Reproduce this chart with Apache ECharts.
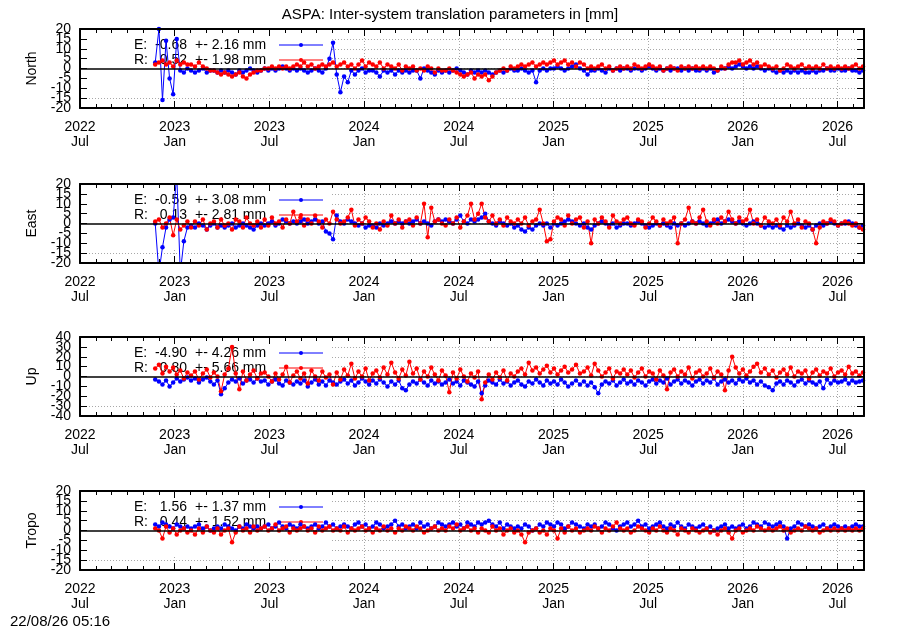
<!DOCTYPE html>
<html><head><meta charset="utf-8">
<script src="https://cdn.jsdelivr.net/npm/echarts@6/dist/echarts.min.js"></script>
<style>html,body{margin:0;padding:0;background:#fff}#c{width:900px;height:630px}</style>
</head><body><div id="c"></div>
<script>
const titleText = 'ASPA: Inter-system translation parameters in [mm]';
const stampText = '22/08/26 05:16';
const startDate = '2022-11-24';
const stepDays = 7;
const axisStart = '2022-07-01';
const axisEnd = '2026-08-22';
const tickLabels = ['2022\nJul','2023\nJan','2023\nJul','2024\nJan','2024\nJul','2025\nJan','2025\nJul','2026\nJan','2026\nJul'];
const panelNames = ['North','East','Up','Tropo'];
const yMin = [-20,-20,-40,-20];
const yMax = [20,20,40,20];
const yStep = [5,5,10,5];
const statsE = [['-0.68','2.16'],['-0.59','3.08'],['-4.90','4.26'],['1.56','1.37']];
const statsR = [['0.52','1.98'],['0.13','2.81'],['0.80','5.66'],['0.44','1.52']];

const northE = [3,20,-16,14,-5,-13,15,-1,-2,0,
-1,-2,-1,0,-2,-1,-1,-2,-1,-2,
-1,-2,-3,-1,-2,-1,0,-1,-2,-1,
0,-1,0,-1,0,1,0,-1,0,-1,
0,-1,-2,-1,0,-1,-2,0,5,13,
-3,-12,-4,-7,-1,-3,-1,0,-2,-1,
-1,-2,-4,-1,-2,-1,-3,-1,-2,-1,
-2,-1,-1,-5,0,-1,-2,-3,-1,-2,
-1,-2,-1,0,-1,-2,-3,-1,-2,-1,
-2,-1,-2,-3,-2,-1,-2,-1,0,-1,
-1,0,-1,-2,-1,-7,-1,0,-1,0,
0,1,0,-1,0,1,2,0,-1,-3,
-1,-1,0,-1,-2,0,-1,0,-1,0,
0,-1,0,0,-1,0,1,0,-1,0,
-1,0,-1,0,0,-1,0,-1,0,-1,
-1,0,-1,0,-2,-1,0,0,1,0,
1,2,1,0,1,0,1,0,-1,0,
-1,-2,-1,-2,-1,-2,-1,-2,-1,-2,
-2,-1,-2,-1,-1,0,-1,-1,0,-1,
-1,0,-1,-1,-2,-1];
const northR = [2,3,4,2,3,1,4,2,3,2,
2,1,3,1,0,-1,-1,-2,-3,-2,
-3,-4,-3,-2,-4,-5,-3,-2,-1,-1,
0,0,1,0,1,0,1,0,1,2,
1,3,1,2,0,1,2,1,2,3,
1,2,3,1,2,0,2,4,1,3,
2,1,3,0,2,1,0,2,-1,1,
0,1,-1,0,-1,1,0,-2,0,-1,
-1,0,-1,-2,-3,-4,-3,-2,-5,-3,
-4,-3,-6,-4,-2,-1,0,-1,1,0,
1,2,1,2,3,1,2,3,2,3,
4,2,3,4,2,3,1,3,2,0,
1,0,1,2,0,1,-1,0,1,0,
1,0,2,1,0,1,2,1,0,1,
-1,0,1,0,-1,1,0,1,0,1,
0,1,0,1,0,-1,1,0,2,3,
3,4,2,3,4,2,3,1,2,1,
0,1,-1,0,2,1,0,1,2,0,
1,0,1,0,2,0,1,0,1,0,
1,0,1,2,0,1];
const eastE = [0,-25,-12,-2,2,3,25,-25,-9,-2,
-1,-2,0,-1,-3,-1,0,-2,-1,-2,
-1,0,-2,-1,0,-1,-2,-3,-1,0,
-1,0,1,-1,0,2,1,0,1,0,
1,2,0,1,2,0,1,-4,-5,-8,
4,1,0,2,1,0,-1,0,-2,-1,
-1,-2,0,-1,0,1,0,1,0,1,
0,1,2,0,1,0,-1,1,2,1,
2,1,0,2,4,1,0,2,1,2,
3,5,1,0,-1,1,0,-1,0,-2,
-1,-3,-4,-2,-3,-1,0,-1,0,-2,
0,-1,0,1,2,1,0,-1,0,-2,
-3,-1,0,1,0,-1,0,-2,-1,0,
0,-1,0,1,0,-1,-2,-1,0,-1,
0,-1,-2,0,-1,0,-1,0,1,0,
1,0,-1,0,1,2,0,1,2,1,
0,1,0,-1,0,1,0,-1,-2,-1,
-2,-1,-2,-3,-1,-2,-1,0,-1,-2,
-1,-3,-1,0,-1,0,1,0,-1,0,
0,1,0,-1,-2,-1];
const eastR = [1,2,-2,0,3,-6,2,-3,-1,1,
-2,1,-1,2,-3,0,1,-2,2,-1,
0,-3,2,1,-2,3,0,-1,1,-2,
2,-1,3,0,1,-2,2,0,6,1,
3,-1,2,0,4,1,-2,2,0,6,
2,0,1,3,7,-1,2,0,3,1,
-2,0,-3,1,-1,4,0,2,-2,1,
2,-1,3,0,10,-7,8,1,2,0,
-1,2,0,3,-2,1,4,10,2,5,
10,3,1,4,0,2,-1,3,1,0,
2,0,3,-1,1,2,7,0,-9,-8,
1,3,2,-1,4,0,2,3,-2,1,
-10,2,0,3,1,-2,4,1,0,2,
3,0,-1,2,1,-2,0,3,1,-1,
2,0,1,3,-10,0,2,8,1,0,
3,7,1,-1,2,0,3,1,6,2,
0,3,1,2,7,0,2,-1,3,1,
0,2,-1,3,1,6,0,2,-2,1,
0,-3,-10,-2,1,0,2,1,-1,0,
1,0,-1,0,-2,-3];
const upE = [-3,-5,-8,-4,-10,-6,-2,-5,-3,-1,
-4,-2,-6,-3,-1,-5,-8,-4,-18,-12,
-6,-3,-5,-2,-7,-4,-3,-6,-2,-5,
-4,-8,-5,-3,-7,-9,-4,-6,-8,-5,
-7,-4,-10,-6,-3,-8,-5,-9,-4,-6,
-8,-5,-3,-7,-4,-9,-6,-2,-5,-8,
-4,-7,-3,-6,-10,-5,-8,-4,-12,-14,
-8,-5,-7,-3,-6,-9,-4,-7,-5,-8,
-6,-3,-7,-5,-9,-4,-6,-8,-10,-5,
-17,-9,-4,-6,-8,-3,-7,-5,-9,-6,
-4,-8,-10,-5,-7,-3,-6,-9,-4,-7,
-5,-8,-3,-6,-10,-7,-4,-8,-5,-9,
-6,-11,-17,-8,-5,-7,-4,-9,-6,-3,
-7,-5,-8,-4,-6,-9,-5,-3,-7,-4,
-6,-2,-8,-5,-3,-7,-4,-6,-9,-5,
-3,-7,-4,-6,-2,-8,-5,-3,-6,-4,
-7,-3,-5,-2,-6,-4,-8,-5,-9,-11,
-14,-7,-5,-8,-4,-6,-9,-5,-3,-7,
-4,-6,-8,-5,-12,-3,-7,-4,-6,-5,
-3,-7,-4,-6,-5,-4];
const upR = [8,12,3,10,5,9,2,6,-2,4,
1,5,-3,3,7,-1,4,0,-15,2,
8,30,3,-13,5,-4,2,6,-2,3,
4,0,-5,3,-3,2,10,-6,1,5,
-2,3,-7,6,0,-4,5,-1,2,-8,
4,-3,7,1,13,-2,5,0,8,-4,
3,6,-1,9,2,14,4,-2,7,1,
15,3,8,-3,5,0,9,2,-4,6,
1,-16,4,-2,7,0,-5,3,-1,5,
-23,-6,2,-3,4,-1,6,-4,3,0,
5,8,2,14,6,9,3,7,11,4,
8,2,6,10,4,7,12,3,5,9,
1,13,6,0,4,8,-2,5,3,7,
2,6,-1,4,8,0,5,3,-3,6,
1,-13,4,7,0,5,2,9,-2,4,
6,0,3,8,-1,5,2,-14,6,20,
9,3,7,1,5,10,13,4,8,2,
6,-1,4,7,2,9,0,5,3,6,
-2,4,7,1,5,3,8,0,4,6,
2,10,3,5,1,4];
const tropoE = [3,2,4,3,2,1,3,2,1,2,
1,2,3,1,2,0,1,2,1,3,
2,1,0,2,1,3,2,1,2,1,
2,3,1,2,4,2,1,3,2,1,
3,2,1,2,3,1,2,4,2,3,
1,2,3,2,1,3,4,2,3,1,
2,4,3,1,2,3,5,2,3,1,
2,3,1,4,2,3,1,2,4,3,
2,3,4,2,3,1,4,3,2,4,
3,4,5,3,2,4,1,3,2,1,
2,1,3,2,0,1,3,2,4,3,
2,4,3,1,2,4,3,2,1,3,
2,3,1,2,4,3,1,0,2,3,
4,2,3,5,2,3,1,2,3,4,
2,1,3,2,4,2,1,3,2,1,
2,3,1,2,0,1,2,3,1,2,
1,2,3,1,2,4,3,2,4,3,
2,3,4,2,-4,1,2,4,3,2,
3,2,1,2,3,1,2,3,2,1,
2,1,2,3,2,2];
const tropoR = [1,0,-4,2,-1,1,-2,0,1,-1,
0,-2,1,-1,2,0,-1,1,-2,0,
1,-6,-1,2,0,1,-1,2,0,1,
2,0,1,3,0,1,2,-1,1,0,
1,2,0,1,-1,2,0,1,2,0,
1,0,2,-1,1,0,1,2,0,1,
-1,1,0,2,0,1,-1,1,0,2,
1,0,2,1,-1,0,1,2,0,1,
0,2,1,3,0,1,2,0,1,-1,
1,0,-1,2,0,1,-2,0,1,-1,
0,-2,-6,-1,0,1,-1,0,-2,1,
0,-4,1,-1,2,0,1,-1,0,1,
0,2,1,-1,1,0,2,4,1,0,
1,-1,0,2,1,0,-1,1,0,2,
0,-1,1,0,-2,1,0,-1,1,0,
-1,0,1,-1,0,-2,0,1,-1,-4,
0,1,-1,0,1,0,2,1,0,1,
0,1,2,0,1,-1,0,1,0,2,
1,0,1,-1,0,1,0,1,0,1,
0,1,0,1,0,1];

const seriesE = [northE, eastE, upE, tropoE];
const seriesR = [northR, eastR, upR, tropoR];

// layout
const FONT = '"Liberation Sans", Arial, Helvetica, sans-serif';
const gridTops = [29, 184, 337, 491];
const gridH = 79, gridL = 80, gridR = 36;
const BLUE = '#0000ff', RED = '#ff0000';
const NX = 5, NY = 4;

function parseUTC(s){ const p = s.split('-').map(Number); return new Date(Date.UTC(p[0], p[1]-1, p[2])); }
const origin = parseUTC(axisStart);
function monthPos(d){
  const y = d.getUTCFullYear(), mo = d.getUTCMonth(), day = d.getUTCDate();
  const dim = new Date(Date.UTC(y, mo+1, 0)).getUTCDate();
  return (y - origin.getUTCFullYear())*12 + (mo - origin.getUTCMonth()) + (day-1)/dim;
}
const xMax = monthPos(parseUTC(axisEnd));
const t0 = parseUTC(startDate).getTime();
function toPairs(arr){ return arr.map((v,i)=>[monthPos(new Date(t0 + i*stepDays*86400000)), v]); }

const xAxes = [], yAxes = [], grids = [], series = [], graphics = [];
function xLabel(v){ const k = Math.round(v/6); return (Math.abs(v-6*k) < 1e-6 && tickLabels[k]) ? tickLabels[k] : ''; }

panelNames.forEach((name, p) => {
  grids.push({left: gridL, right: gridR, top: gridTops[p], height: gridH, containLabel: false, outerBoundsMode: 'none'});
  const xb = {type:'value', gridIndex:p, min:0, max:xMax, silent:true, axisPointer:{show:false}};
  const lineS = {show:true, onZero:false, lineStyle:{color:'#000', width:2}};
  const tickS = {show:true, inside:true, length:7, lineStyle:{color:'#000', width:1}};
  const minorS = {show:true, inside:true, length:4, lineStyle:{color:'#000', width:1}};
  const gridS = {show:true, lineStyle:{color:'#a8a8a8', type:[1,2], width:1}};
  xAxes.push(Object.assign({}, xb, {position:'bottom', interval:6, z:5, axisLine:lineS, axisTick:tickS,
    axisLabel:{show:true, formatter:xLabel, fontSize:14, fontFamily:FONT, color:'#000', lineHeight:15, margin:12, hideOverlap:false, showMinLabel:true},
    splitLine:{show:false}}));
  xAxes.push(Object.assign({}, xb, {position:'top', interval:6, z:5, axisLine:lineS, axisTick:tickS,
    axisLabel:{show:false}, splitLine:{show:false}}));
  xAxes.push(Object.assign({}, xb, {position:'bottom', interval:1, z:5, axisLine:{show:false, onZero:false},
    axisTick:minorS, axisLabel:{show:false}, splitLine:{show:false}}));
  xAxes.push(Object.assign({}, xb, {position:'top', interval:1, z:5, axisLine:{show:false, onZero:false},
    axisTick:minorS, axisLabel:{show:false}, splitLine:{show:false}}));
  xAxes.push(Object.assign({}, xb, {position:'bottom', interval:6, z:0, axisLine:{show:false, onZero:false},
    axisTick:{show:false}, axisLabel:{show:false}, splitLine:gridS}));

  // y tick label values, split in two alternating sets so none are dropped
  const setA = [], setB = [];
  for (let k = 0, v = yMin[p]; v <= yMax[p] + 1e-9; k++, v = yMin[p] + k*yStep[p]) (k % 2 === 0 ? setA : setB).push(v);
  const labS = {fontSize:14, fontFamily:FONT, color:'#000', margin:9, hideOverlap:false, showMinLabel:true, showMaxLabel:true};
  const yb = {type:'value', gridIndex:p, min:yMin[p], max:yMax[p], interval:yStep[p], silent:true, axisPointer:{show:false}};
  yAxes.push(Object.assign({}, yb, {position:'left', z:5, axisLine:lineS, axisTick:tickS,
    axisLabel:Object.assign({show:true, customValues:setA}, labS),
    splitLine:{show:false},
    name:name, nameLocation:'middle', nameGap:41, nameRotate:90,
    nameTextStyle:{fontSize:14, fontFamily:FONT, color:'#000'}}));
  yAxes.push(Object.assign({}, yb, {position:'right', z:5, axisLine:lineS, axisTick:tickS,
    axisLabel:{show:false}, splitLine:{show:false}}));
  yAxes.push(Object.assign({}, yb, {position:'left', z:0, axisLine:{show:false, onZero:false},
    axisTick:{show:false}, axisLabel:{show:false}, splitLine:gridS}));
  yAxes.push(Object.assign({}, yb, {position:'left', z:5, axisLine:{show:false, onZero:false},
    axisTick:{show:false}, axisLabel:Object.assign({show:true, customValues:setB}, labS), splitLine:{show:false}}));

  const common = {type:'line', xAxisIndex:p*NX, yAxisIndex:p*NY, symbol:'circle', symbolSize:4.5,
    showAllSymbol:true, clip:true, silent:true, animation:false, z:2};
  series.push(Object.assign({}, common, {name:'E'+p, data:toPairs(seriesE[p]),
    itemStyle:{color:BLUE}, lineStyle:{color:BLUE, width:1}}));
  series.push(Object.assign({}, common, {name:'R'+p, data:toPairs(seriesR[p]),
    itemStyle:{color:RED}, lineStyle:{color:RED, width:1},
    markLine:{silent:true, symbol:'none', animation:false, label:{show:false},
      lineStyle:{color:'#000', width:1.5, type:'solid'}, emphasis:{disabled:true},
      data:[{yAxis:0}]}}));

  const top = gridTops[p];
  graphics.push({type:'rect', z:1, silent:true, shape:{x:81, y:top+1, width:251, height:63}, style:{fill:'#fff'}});
  const rows = [[statsE[p], 'E:', BLUE, top+16], [statsR[p], 'R:', RED, top+31]];
  rows.forEach(r => {
    const [st, lab, col, yy] = r;
    const ts = {fill:'#000', font:'14px '+FONT, textVerticalAlign:'middle', verticalAlign:'middle'};
    graphics.push({type:'text', z:1.5, silent:true, style:Object.assign({text:lab, x:134, y:yy, textAlign:'left'}, ts)});
    graphics.push({type:'text', z:1.5, silent:true, style:Object.assign({text:st[0], x:187, y:yy, textAlign:'right'}, ts)});
    graphics.push({type:'text', z:1.5, silent:true, style:Object.assign({text:'+- ' + st[1] + ' mm', x:195, y:yy, textAlign:'left'}, ts)});
    graphics.push({type:'line', z:1.5, silent:true, shape:{x1:279, y1:yy, x2:323, y2:yy}, style:{stroke:col, lineWidth:1}});
    graphics.push({type:'circle', z:1.5, silent:true, shape:{cx:301, cy:yy, r:2}, style:{fill:col}});
  });
});

graphics.push({type:'text', z:5, silent:true, style:{text:titleText, x:450, y:15, fill:'#000', font:'15px '+FONT, textAlign:'center', textVerticalAlign:'middle', verticalAlign:'middle'}});
graphics.push({type:'text', z:5, silent:true, style:{text:stampText, x:10, y:622, fill:'#000', font:'15px '+FONT, textAlign:'left', textVerticalAlign:'middle', verticalAlign:'middle'}});

const chart = echarts.init(document.getElementById('c'), null, {renderer:'canvas'});
chart.setOption({
  animation:false,
  backgroundColor:'#fff',
  grid:grids, xAxis:xAxes, yAxis:yAxes, series:series,
  graphic:{elements:graphics},
  tooltip:{show:false}
});
</script></body></html>
